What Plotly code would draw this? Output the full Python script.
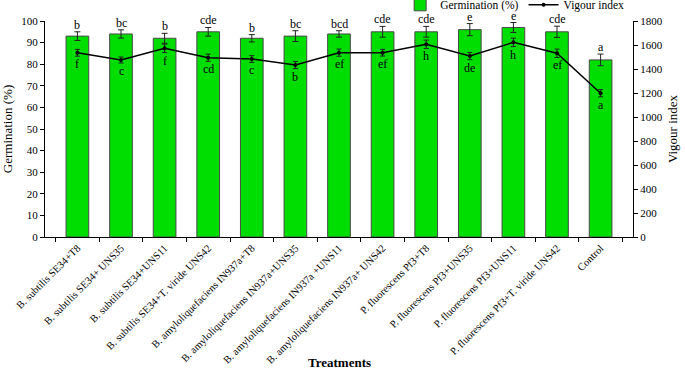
import plotly.graph_objects as go

treatments = [
    "B. subtilis SE34+T8", "B. subtilis SE34+ UNS35", "B. subtilis SE34+UNS11",
    "B. subtilis SE34+T. viride UNS42", "B. amyloliquefaciens IN937a+T8",
    "B. amyloliquefaciens IN937a+UNS35", "B. amyloliquefaciens IN937a +UNS11",
    "B. amyloliquefaciens IN937a+ UNS42", "P. fluorescens Pf3+T8",
    "P. fluorescens Pf3+UNS35", "P. fluorescens Pf3+UNS11",
    "P. fluorescens Pf3+T. viride UNS42", "Control",
]
germination = [93, 94, 92, 95, 92, 93, 94, 95, 95, 96, 97, 95, 82]
germination_err = [2.0, 1.9, 2.3, 2.0, 1.7, 2.5, 1.5, 2.5, 2.5, 2.8, 2.3, 2.6, 2.7]
germination_letters = ["b", "bc", "b", "cde", "b", "bc", "bcd", "cde", "cde", "e", "e", "cde", "a"]
vigour = [1535, 1475, 1572, 1494, 1483, 1433, 1536, 1536, 1606, 1508, 1622, 1531, 1198]
vigour_err = [28, 25, 35, 30, 28, 30, 30, 28, 35, 30, 35, 35, 30]
vigour_letters = ["f", "c", "f", "cd", "c", "b", "ef", "ef", "h", "de", "h", "ef", "a"]

serif = "Liberation Serif"

fig = go.Figure()
fig.add_trace(go.Bar(
    x=treatments, y=germination, name="Germination (%)",
    marker=dict(color="#00dd00", line=dict(color="#4a4a4a", width=1)),
    width=0.52,
    error_y=dict(type="data", array=germination_err, color="#222", thickness=1, width=3),
))
fig.add_trace(go.Scatter(
    x=treatments, y=vigour, name="Vigour index", yaxis="y2",
    mode="lines+markers", line=dict(color="black", width=1.5),
    marker=dict(color="black", size=4),
    error_y=dict(type="data", array=vigour_err, color="#222", thickness=1, width=2.5),
))

annotations = []
for t, g, e, l in zip(treatments, germination, germination_err, germination_letters):
    annotations.append(dict(x=t, y=g + e, xref="x", yref="y", text=l, showarrow=False,
                            yanchor="bottom", yshift=-2, font=dict(family=serif, size=12, color="black")))
for t, v, e, l in zip(treatments, vigour, vigour_err, vigour_letters):
    annotations.append(dict(x=t, y=v - e, xref="x", yref="y2", text=l, showarrow=False,
                            yanchor="top", yshift=1, font=dict(family=serif, size=12, color="black")))
annotations.append(dict(x=0.5, y=0, xref="paper", yref="paper", text="<b>Treatments</b>",
                        showarrow=False, yanchor="top", yshift=-116,
                        font=dict(family=serif, size=13, color="black")))

fig.update_layout(
    width=685, height=369,
    margin=dict(l=45, r=52, t=21, b=132, autoexpand=False),
    paper_bgcolor="white", plot_bgcolor="white",
    font=dict(family=serif, color="black", size=11),
    showlegend=True,
    legend=dict(orientation="h", x=0.604, y=1.142, xref="paper", yref="paper",
                xanchor="left", yanchor="top",
                font=dict(family=serif, size=11.5), bgcolor="rgba(0,0,0,0)",
                tracegroupgap=0, itemwidth=30, borderwidth=0),
    xaxis=dict(showline=True, linecolor="black", linewidth=1, ticks="outside",
               tickson="boundaries", ticklen=4, tickcolor="black", tickangle=-45,
               tickfont=dict(family=serif, size=10.5), showgrid=False, automargin=False),
    yaxis=dict(range=[0, 100], dtick=10, showline=True, linecolor="black", linewidth=1,
               ticks="outside", ticklen=4, tickcolor="black", showgrid=False, zeroline=False,
               automargin=False,
               title=dict(text="Germination (%)", font=dict(family=serif, size=13), standoff=6),
               tickfont=dict(family=serif, size=11)),
    yaxis2=dict(range=[0, 1800], dtick=200, overlaying="y", side="right", showline=True,
                linecolor="black", linewidth=1, ticks="outside", ticklen=4, tickcolor="black",
                showgrid=False, zeroline=False, automargin=False,
                title=dict(text="Vigour index", font=dict(family=serif, size=13), standoff=6),
                tickfont=dict(family=serif, size=11)),
    annotations=annotations,
)

fig.write_html("out.html", config={"displayModeBar": False},
               post_script="document.body.style.margin='0';")
